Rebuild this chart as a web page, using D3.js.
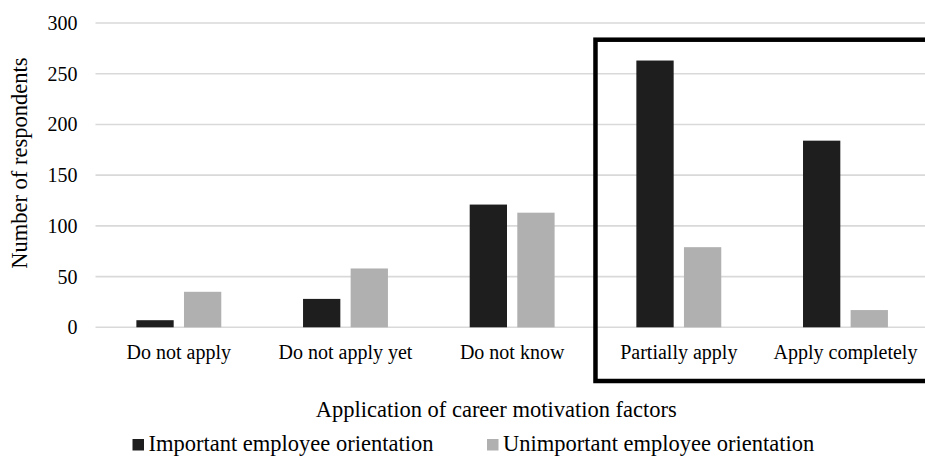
<!DOCTYPE html>
<html>
<head>
<meta charset="utf-8">
<script src="https://cdn.jsdelivr.net/npm/d3@7"></script>
<style>
  html, body { margin: 0; padding: 0; background: #fff; }
  svg { display: block; }
  text { font-family: "Liberation Serif", "Times New Roman", serif; fill: #000; }
</style>
</head>
<body>
<svg id="chart" width="925" height="457"></svg>
<script>
const categories = ["Do not apply", "Do not apply yet", "Do not know", "Partially apply", "Apply completely"];
const seriesNames = ["Important employee orientation", "Unimportant employee orientation"];
const important = [7, 28, 121, 263, 184];
const unimportant = [35, 58, 113, 79, 17];
const yTicks = [0, 50, 100, 150, 200, 250, 300];
const highlighted = ["Partially apply", "Apply completely"];

(function () {
const colors = ["#1e1e1e", "#b0b0b0"];
const svg = d3.select("#chart");
const W = 925, H = 457;
const pLeft = 95.5, pRight = 928.8, pTop = 23, pBottom = 327.3;

const x = d3.scaleBand().domain(categories).range([pLeft, pRight]).padding(0);
const y = d3.scaleLinear().domain([0, 300]).range([pBottom, pTop]);

const barW = 37.3, gap = 10.3;

// gridlines
svg.append("g").selectAll("line").data(yTicks).join("line")
  .attr("x1", pLeft).attr("x2", W)
  .attr("y1", d => y(d)).attr("y2", d => y(d))
  .attr("stroke", "#d9d9d9").attr("stroke-width", 1.6);

// y tick labels
svg.append("g").selectAll("text").data(yTicks).join("text")
  .attr("x", 77.5).attr("y", d => y(d) + 7)
  .attr("text-anchor", "end").attr("font-size", 20)
  .text(d => d);

// bars
const series = [important, unimportant];
series.forEach((vals, si) => {
  svg.append("g").selectAll("rect").data(categories).join("rect")
    .attr("x", (c) => {
      const cx = x(c) + x.bandwidth() / 2;
      return si === 0 ? cx - gap / 2 - barW : cx + gap / 2;
    })
    .attr("y", (c, i) => y(vals[i]))
    .attr("width", barW)
    .attr("height", (c, i) => y(0) - y(vals[i]))
    .attr("fill", colors[si]);
});

// category labels
svg.append("g").selectAll("text").data(categories).join("text")
  .attr("x", c => x(c) + x.bandwidth() / 2)
  .attr("y", 359)
  .attr("text-anchor", "middle").attr("font-size", 20)
  .text(c => c);

// highlight box
const bx = x(highlighted[0]);
svg.append("rect")
  .attr("x", bx).attr("y", 39.7)
  .attr("width", W + 20 - bx).attr("height", 381 - 39.7)
  .attr("fill", "none").attr("stroke", "#000").attr("stroke-width", 4.5);

// axis titles
svg.append("text")
  .attr("x", (pLeft + W) / 2 - 14).attr("y", 417)
  .attr("text-anchor", "middle").attr("font-size", 22.5)
  .text("Application of career motivation factors");

svg.append("text")
  .attr("transform", "translate(26.5," + ((pTop + pBottom) / 2 - 12) + ") rotate(-90)")
  .attr("text-anchor", "middle").attr("font-size", 22.5)
  .text("Number of respondents");

// legend
const legendX = [132.5, 487];
seriesNames.forEach((name, i) => {
  const g = svg.append("g").attr("transform", `translate(${legendX[i]},451)`);
  g.append("rect").attr("x", 0).attr("y", -12).attr("width", 11.5).attr("height", 11.5).attr("fill", colors[i]);
  g.append("text").attr("x", 16).attr("y", 0).attr("font-size", 22.5).text(name);
});
})();
</script>
</body>
</html>
